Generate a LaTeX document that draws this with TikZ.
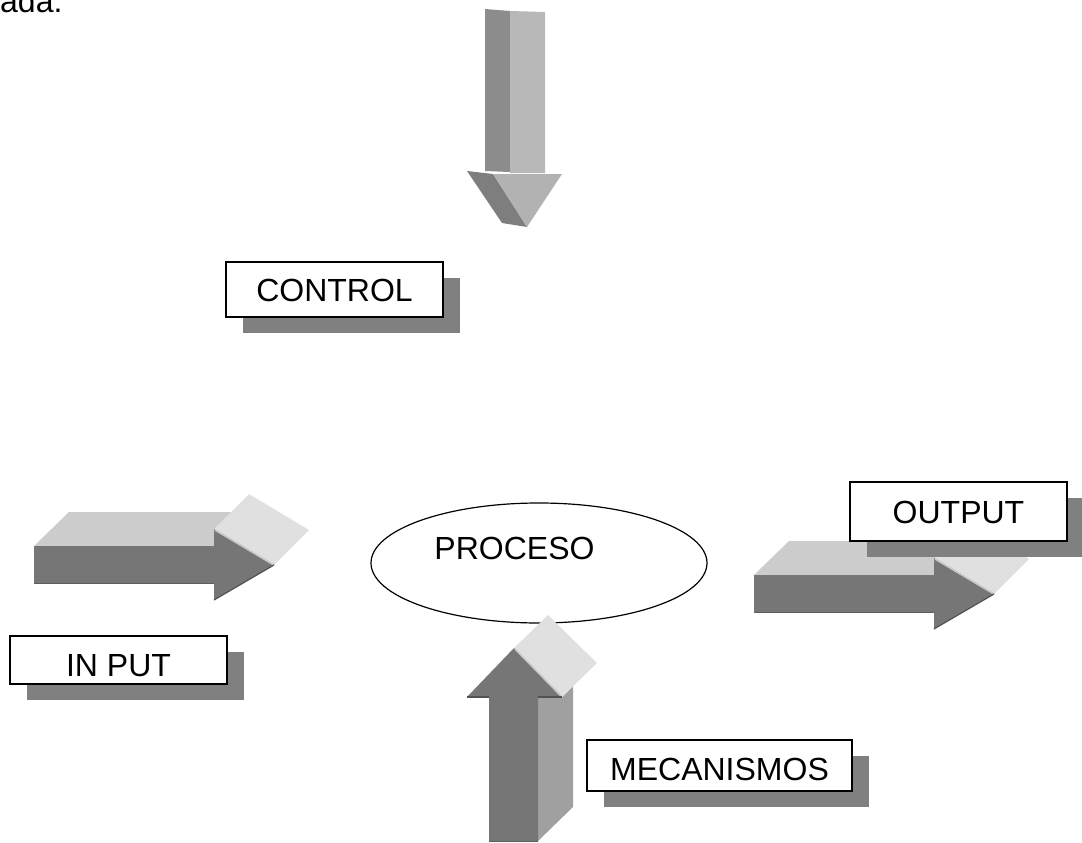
\documentclass[tikz,border=0pt]{standalone}
\usepackage{fontspec}
\setmainfont{Liberation Sans}
\usetikzlibrary{shapes.geometric,shadows}

\definecolor{frontgray}{RGB}{118,118,118}
\definecolor{edgegray}{RGB}{82,82,82}
\definecolor{topgray}{RGB}{204,204,204}
\definecolor{capgray}{RGB}{224,224,224}
\definecolor{stripgray}{RGB}{200,200,200}
\definecolor{sidegray}{RGB}{160,160,160}
\definecolor{shadowgray}{RGB}{128,128,128}
\definecolor{downdark}{RGB}{140,140,140}
\definecolor{downlight}{RGB}{184,184,184}
\definecolor{headdark}{RGB}{126,126,126}
\definecolor{headlight}{RGB}{178,178,178}

\tikzset{
  labelbox/.style={rectangle, draw=black, line width=1.5pt, fill=white,
    inner sep=0pt, minimum width=217pt, text height=23pt, text depth=0pt,
    drop shadow={shadow xshift=16.5pt, shadow yshift=-16pt,
      fill=shadowgray, opacity=1}},
  % extruded arrow pointing right, seen from above
  sidearrow/.pic={
    % top of the shaft
    \fill[topgray] (34,546) -- (69,512) -- (249,512) -- (214,546) -- cycle;
    % top of the head
    \fill[capgray] (214,529) -- (249,494) -- (309,530) -- (274,565) -- cycle;
    % front face
    \fill[frontgray] (34,546) -- (214,546) -- (214,529) -- (274,565)
      -- (214,600) -- (214,583) -- (34,583) -- cycle;
    \draw[stripgray, line width=1.6pt] (215,530) -- (273,564.5);
    \draw[edgegray, line width=1.2pt] (274,565) -- (214,600);
    \draw[edgegray!70!frontgray, line width=1pt] (34,583) -- (214,583);
  }
}

\begin{document}
\begin{tikzpicture}[x=1pt, y=-1pt, font=\fontsize{32}{38}\selectfont]
\useasboundingbox (0,0) rectangle (1082,843);
\clip (0,0) rectangle (1082,843);

% end of the preceding text line
\node[anchor=base west, inner sep=0pt] (tail) at (0,12.5) {ada.};

% downward arrow above CONTROL
\fill[downdark] (485,9) -- (510,11) -- (510,172) -- (485,171) -- cycle;
\fill[downlight] (510,11) -- (545,12) -- (545,173) -- (510,173) -- cycle;
\fill[headdark] (467,171) -- (493,174) -- (527,227) -- (502,223) -- cycle;
\fill[headlight] (493,174) -- (562,174) -- (527,227) -- cycle;

\node[labelbox, minimum height=55pt] (control) at (334.5,289.5) {CONTROL};

% central process
\node[ellipse, draw=black, line width=1.2pt, fill=white, inner sep=0pt,
  minimum width=336pt, minimum height=120pt,
  label={[xshift=-24.5pt, yshift=15.5pt, inner sep=0pt,
    text height=23pt, text depth=0pt]center:PROCESO}] (proceso) at (539,563) {};

% input arrow and label
\pic (inarrow) at (0,0) {sidearrow};
\node[labelbox, minimum height=48pt, text height=32pt] (input) at (118.5,660) {IN PUT};

% output arrow and label
\pic (outarrow) at (720,29) {sidearrow};
\node[labelbox, minimum height=59pt] (output) at (958.5,511.5) {OUTPUT};

% upward arrow below the process
\fill[sidegray] (538,697) -- (562,697) -- (573,686) -- (573,807) -- (538,841) -- cycle;
\fill[capgray] (514,648) -- (548,615) -- (597,663) -- (562,697) -- cycle;
\fill[frontgray] (489,841) -- (489,697) -- (467,697) -- (514,648) -- (562,697)
  -- (538,697) -- (538,841) -- cycle;
\draw[stripgray, line width=1.6pt] (515,649) -- (561,696);
\draw[edgegray, line width=1.2pt] (467,697) -- (489,697) (538,697) -- (562,697);
\draw[edgegray!70!frontgray, line width=1pt] (489,841) -- (538,841);

\node[labelbox, minimum width=265pt, minimum height=51pt, text height=29pt]
  (mecanismos) at (719.5,765.5) {MECANISMOS};
\end{tikzpicture}
\end{document}
